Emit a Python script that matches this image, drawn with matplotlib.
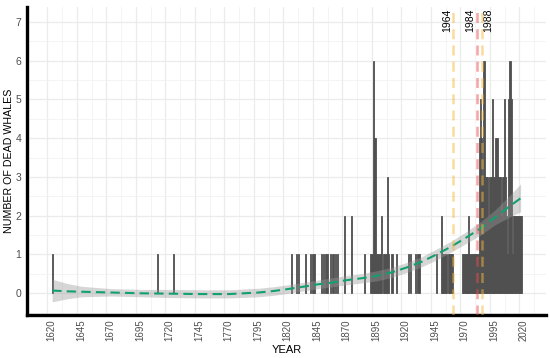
import matplotlib
matplotlib.use("Agg")
import matplotlib.pyplot as plt
import matplotlib.transforms as mtransforms
import numpy as np

# whale deaths per year
bar_years = [1624, 1713, 1727,
             1827, 1831, 1833, 1839, 1843, 1845, 1846, 1852, 1854, 1856, 1857,
             1860, 1862, 1864, 1866, 1872, 1878, 1889,
             1894, 1895, 1896, 1897, 1898, 1899, 1900, 1901, 1902, 1903,
             1905, 1906, 1907, 1908, 1909, 1912, 1916, 1926, 1928, 1932, 1934, 1935,
             1950, 1954, 1955, 1956, 1957, 1958, 1960, 1961, 1962, 1963,
             1972, 1973, 1974, 1975, 1976, 1977, 1978, 1979, 1980, 1981, 1982, 1983, 1984,
             1985, 1986, 1987, 1988, 1989, 1990, 1991, 1992, 1993, 1994, 1995, 1996,
             1997, 1998, 1999, 2000, 2001, 2002, 2003, 2004, 2005, 2006, 2007, 2008,
             2009, 2010, 2011, 2012, 2013, 2014, 2015, 2016, 2017, 2018, 2019, 2020,
             2021, 2022]
whale_counts = [1, 1, 1,
                1, 1, 1, 1, 1, 1, 1, 1, 1, 1, 1,
                1, 1, 1, 1, 2, 2, 1,
                1, 1, 6, 4, 4, 1, 1, 1, 1, 2,
                1, 1, 1, 3, 1, 1, 1, 1, 1, 1, 1, 1,
                1, 2, 1, 1, 1, 1, 1, 1, 1, 1,
                1, 1, 1, 1, 1, 2, 1, 1, 1, 1, 1, 1, 1,
                1, 4, 5, 4, 3, 6, 3, 3, 3, 2, 3, 3,
                5, 3, 3, 4, 4, 3, 3, 3, 2, 3, 5, 3,
                2, 1, 5, 6, 5, 1, 2, 2, 2, 2, 2, 2,
                2, 2]

# smoothed trend with confidence band
smooth_years = [1624, 1637, 1649, 1674, 1699, 1724, 1749, 1774, 1799, 1812, 1824,
                1837, 1849, 1862, 1874, 1887, 1899, 1912, 1924, 1937, 1949, 1962,
                1974, 1987, 1999, 2012, 2021]
smooth_fit = [0.07, 0.05, 0.04, 0.02, 0.00, -0.01, -0.02, -0.02, 0.02, 0.06, 0.11,
              0.17, 0.23, 0.28, 0.34, 0.39, 0.45, 0.54, 0.66, 0.81, 0.99, 1.20,
              1.42, 1.67, 1.95, 2.25, 2.45]
smooth_lo = [-0.22, -0.14, -0.09, -0.07, -0.09, -0.11, -0.12, -0.12, -0.09, -0.05, 0.00,
             0.06, 0.12, 0.17, 0.22, 0.27, 0.32, 0.41, 0.53, 0.68, 0.85, 1.06,
             1.27, 1.50, 1.76, 1.97, 2.10]
smooth_hi = [0.36, 0.25, 0.18, 0.12, 0.10, 0.10, 0.09, 0.09, 0.13, 0.17, 0.22,
             0.28, 0.34, 0.40, 0.46, 0.51, 0.58, 0.67, 0.79, 0.94, 1.13, 1.34,
             1.57, 1.84, 2.14, 2.53, 2.82]

event_years = [1964, 1984, 1988]
event_colors = ["#f5b83d", "#ee4b4b", "#f5b83d"]
event_text_dx = [-4.5, -4.5, 5]  # points

plt.rcParams["font.family"] = ["Liberation Sans", "DejaVu Sans"]

fig = plt.figure(figsize=(5.5, 3.58), dpi=100)
ax = fig.add_axes([0.0491, 0.1201, 0.9436, 0.8603])

ax.bar(bar_years, whale_counts, width=1.0, color="#505050",
       edgecolor="#505050", linewidth=0.6, zorder=2)

ax.fill_between(smooth_years, smooth_lo, smooth_hi, color="#999999",
                alpha=0.4, linewidth=0, zorder=3)
ax.plot(smooth_years, smooth_fit, color="#12a06e", linewidth=1.5,
        dashes=(4.5, 2.5), zorder=4)

for yr, c, dx in zip(event_years, event_colors, event_text_dx):
    ax.axvline(yr, color=c, alpha=0.5, linewidth=1.8, dashes=(4, 2.5), zorder=5)
    ax.annotate(str(yr), xy=(yr, 7.03), xytext=(dx, 0), textcoords="offset points",
                rotation=90, ha="center", va="center", fontsize=7.5, color="black")

ax.set_xlim(1602.7, 2042.5)
ax.set_ylim(-0.56, 7.38)
ax.set_xticks(np.arange(1620, 2021, 25))
ax.set_xticks(np.arange(1632.5, 2040, 25), minor=True)
ax.set_yticks(np.arange(0, 8, 1))
ax.set_yticks(np.arange(-0.5, 7.5, 0.5), minor=True)

ax.grid(which="major", color="#ebebeb", linewidth=0.9, zorder=0)
ax.grid(which="minor", color="#f2f2f2", linewidth=0.6, zorder=0)
ax.set_axisbelow(True)

for s in ["top", "right"]:
    ax.spines[s].set_visible(False)
for s in ["left", "bottom"]:
    ax.spines[s].set_linewidth(2.4)
    ax.spines[s].set_color("black")

ax.tick_params(axis="both", which="both", length=0, labelcolor="#4d4d4d")
ax.tick_params(axis="x", labelsize=7, pad=3, labelrotation=90)
ax.tick_params(axis="y", labelsize=7.5, pad=4)

# shift x labels a bit to the right like in the source
shift = mtransforms.ScaledTranslation(4 / 100, 0, fig.dpi_scale_trans)
for lab in ax.get_xticklabels():
    lab.set_transform(lab.get_transform() + shift)

ax.set_xlabel("YEAR", fontsize=8, labelpad=3)
ax.set_ylabel("NUMBER OF DEAD WHALES", fontsize=7.7, labelpad=1)

fig.savefig("out.png", dpi=100)
